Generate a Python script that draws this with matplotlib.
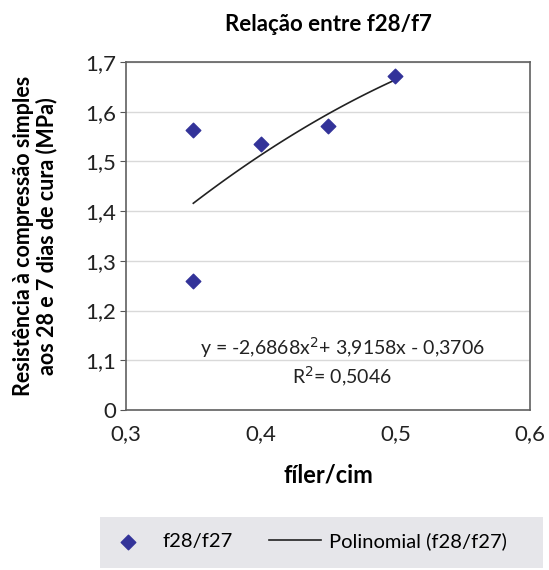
import numpy as np
import matplotlib.pyplot as plt
from matplotlib.patches import Rectangle

plt.rcParams['font.family'] = ['Lato', 'DejaVu Sans']

# dados
filer_cim = [0.35, 0.35, 0.40, 0.45, 0.50]
f28_f7 = [1.564, 1.260, 1.536, 1.572, 1.672]
y_ticks = [1.0, 1.1, 1.2, 1.3, 1.4, 1.5, 1.6, 1.7]
y_labels = ['0', '1,1', '1,2', '1,3', '1,4', '1,5', '1,6', '1,7']
x_ticks = [0.3, 0.4, 0.5, 0.6]
x_labels = ['0,3', '0,4', '0,5', '0,6']
eq_text = 'y = -2,6868x$^{2}$+ 3,9158x - 0,3706\nR$^{2}$= 0,5046'

fig = plt.figure(figsize=(5.49, 5.70), dpi=100)
ax = fig.add_axes([0.2295, 0.2807, 0.7359, 0.6105])

ax.scatter(filer_cim, f28_f7, marker='D', s=55, color='#333399', zorder=3,
           label='f28/f27')

# linha de tendência polinomial de 2ª ordem
coef = np.polyfit(filer_cim, f28_f7, 2)
xs = np.linspace(min(filer_cim), max(filer_cim), 50)
ax.plot(xs, np.polyval(coef, xs), color='#222222', lw=1.2, zorder=2,
        label='Polinomial (f28/f27)')

ax.set_xlim(0.3, 0.6)
ax.set_ylim(1.0, 1.7)
ax.set_yticks(y_ticks)
ax.set_yticklabels(y_labels, fontsize=16, color='#222222')
ax.set_xticks(x_ticks)
ax.set_xticklabels(x_labels, fontsize=16, color='#222222')
ax.tick_params(axis='x', length=0, pad=10)
ax.tick_params(axis='y', length=4, color='#555555', pad=3)
ax.grid(axis='y', color='#d9d9d9', lw=1)
ax.set_axisbelow(True)
for s in ax.spines.values():
    s.set_color('#606060')
    s.set_linewidth(1.2)

ax.text(0.535, 0.138, eq_text, transform=ax.transAxes, ha='center', va='center',
        fontsize=14, color='#222222', linespacing=1.25)

ax.set_title('Relação entre f28/f7', fontsize=16, fontweight='bold', pad=22)
ax.set_xlabel('fíler/cim', fontsize=17, fontweight='bold', labelpad=14)
ax.set_ylabel('Resistência à compressão simples\naos 28 e 7 dias de cura (MPa)',
              fontsize=15.5, fontweight='bold', linespacing=1.1)
ax.yaxis.set_label_coords(-0.17, 0.5)

# caixa da legenda
fig.patches.append(Rectangle((100/549, 2/570), 443/549, 51/570,
                             transform=fig.transFigure, facecolor='#e6e6ea',
                             edgecolor='none', zorder=0))
fig.legend(loc='center left', ncol=2, bbox_to_anchor=(94/549, 29/570),
           fontsize=14.5, frameon=False, handlelength=2.6, handletextpad=0.4,
           columnspacing=1.8, borderaxespad=0)

fig.savefig('out.png', dpi=100)
